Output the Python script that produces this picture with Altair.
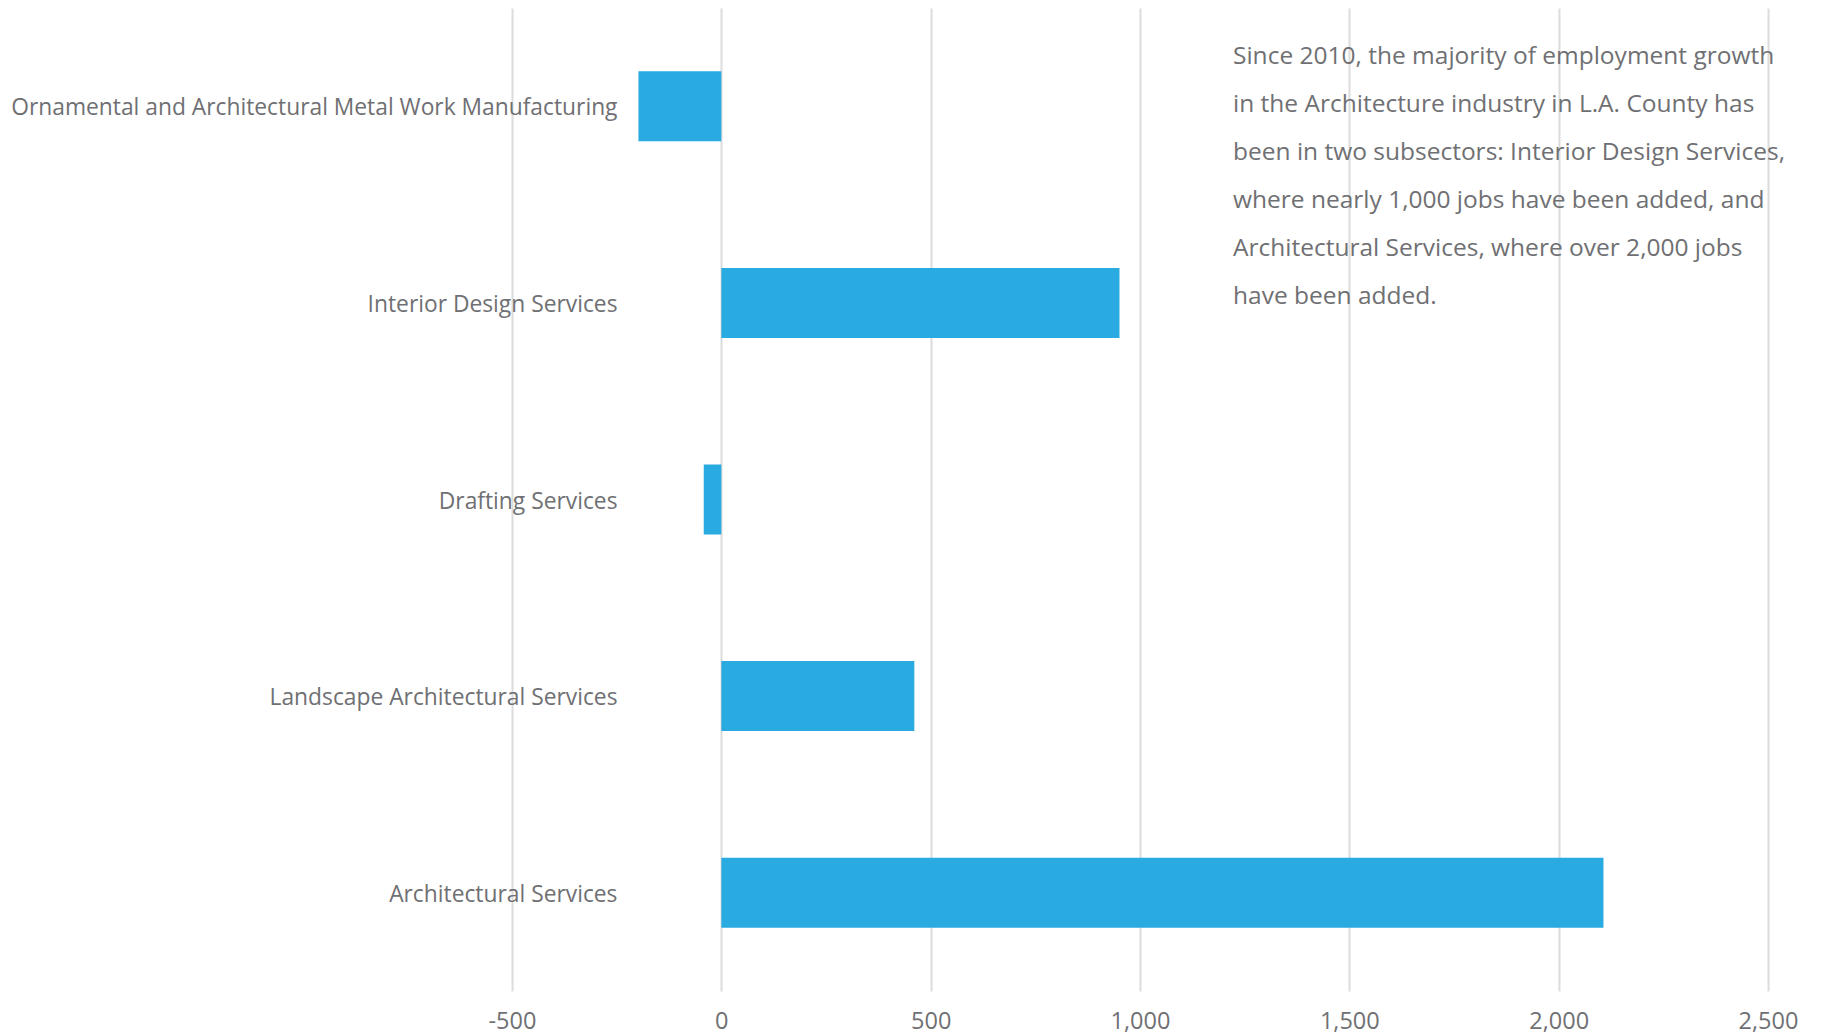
import altair as alt
import pandas as pd

categories = [
    "Ornamental and Architectural Metal Work Manufacturing",
    "Interior Design Services",
    "Drafting Services",
    "Landscape Architectural Services",
    "Architectural Services",
]
values = [-198, 951, -42, 461, 2107]
tick_values = [-500, 0, 500, 1000, 1500, 2000, 2500]
note_lines = [
    "Since 2010, the majority of employment growth",
    "in the Architecture industry in L.A. County has",
    "been in two subsectors: Interior Design Services,",
    "where nearly 1,000 jobs have been added, and",
    "Architectural Services, where over 2,000 jobs",
    "have been added.",
]

FONT = "Open Sans"
GRAY = "#6f7073"

df = pd.DataFrame({"category": categories, "value": values})
note_df = pd.DataFrame({"note": ["\n".join(note_lines)]})

bars = alt.Chart(df).mark_bar(color="#29abe2").encode(
    x=alt.X(
        "value:Q",
        scale=alt.Scale(domain=[-500, 2500], nice=False, zero=False),
        axis=alt.Axis(
            values=tick_values,
            title=None,
            domain=False,
            ticks=False,
            grid=True,
            gridColor="#dcdcdc",
            gridWidth=2,
            labelExpr="replace(format(datum.value, ','), '\u2212', '-')",
            labelFont=FONT,
            labelFontSize=23.5,
            labelColor=GRAY,
            labelPadding=18,
            labelFlush=False,
        ),
    ),
    y=alt.Y(
        "category:N",
        sort=categories,
        scale=alt.Scale(paddingInner=0.644, paddingOuter=0.322),
        axis=alt.Axis(
            title=None,
            domain=False,
            ticks=False,
            grid=False,
            offset=-105,
            labelPadding=0,
            labelOffset=2,
            labelFont=FONT,
            labelFontSize=22.8,
            labelColor=GRAY,
            labelLimit=800,
        ),
    ),
)

note = alt.Chart(note_df).mark_text(
    align="left",
    baseline="alphabetic",
    font=FONT,
    fontSize=24.5,
    color=GRAY,
    lineBreak="\n",
    lineHeight=48,
).encode(
    text="note:N",
    x=alt.value(721),
    y=alt.value(56),
)

chart = (
    alt.layer(bars, note)
    .properties(
        width=1256,
        height=983,
        autosize=alt.AutoSizeParams(type="none"),
        padding={"left": 504, "top": 0, "right": 40, "bottom": 45},
    )
    .configure_view(stroke=None)
)

chart.save("out.html", embed_options={"renderer": "svg", "actions": False})
